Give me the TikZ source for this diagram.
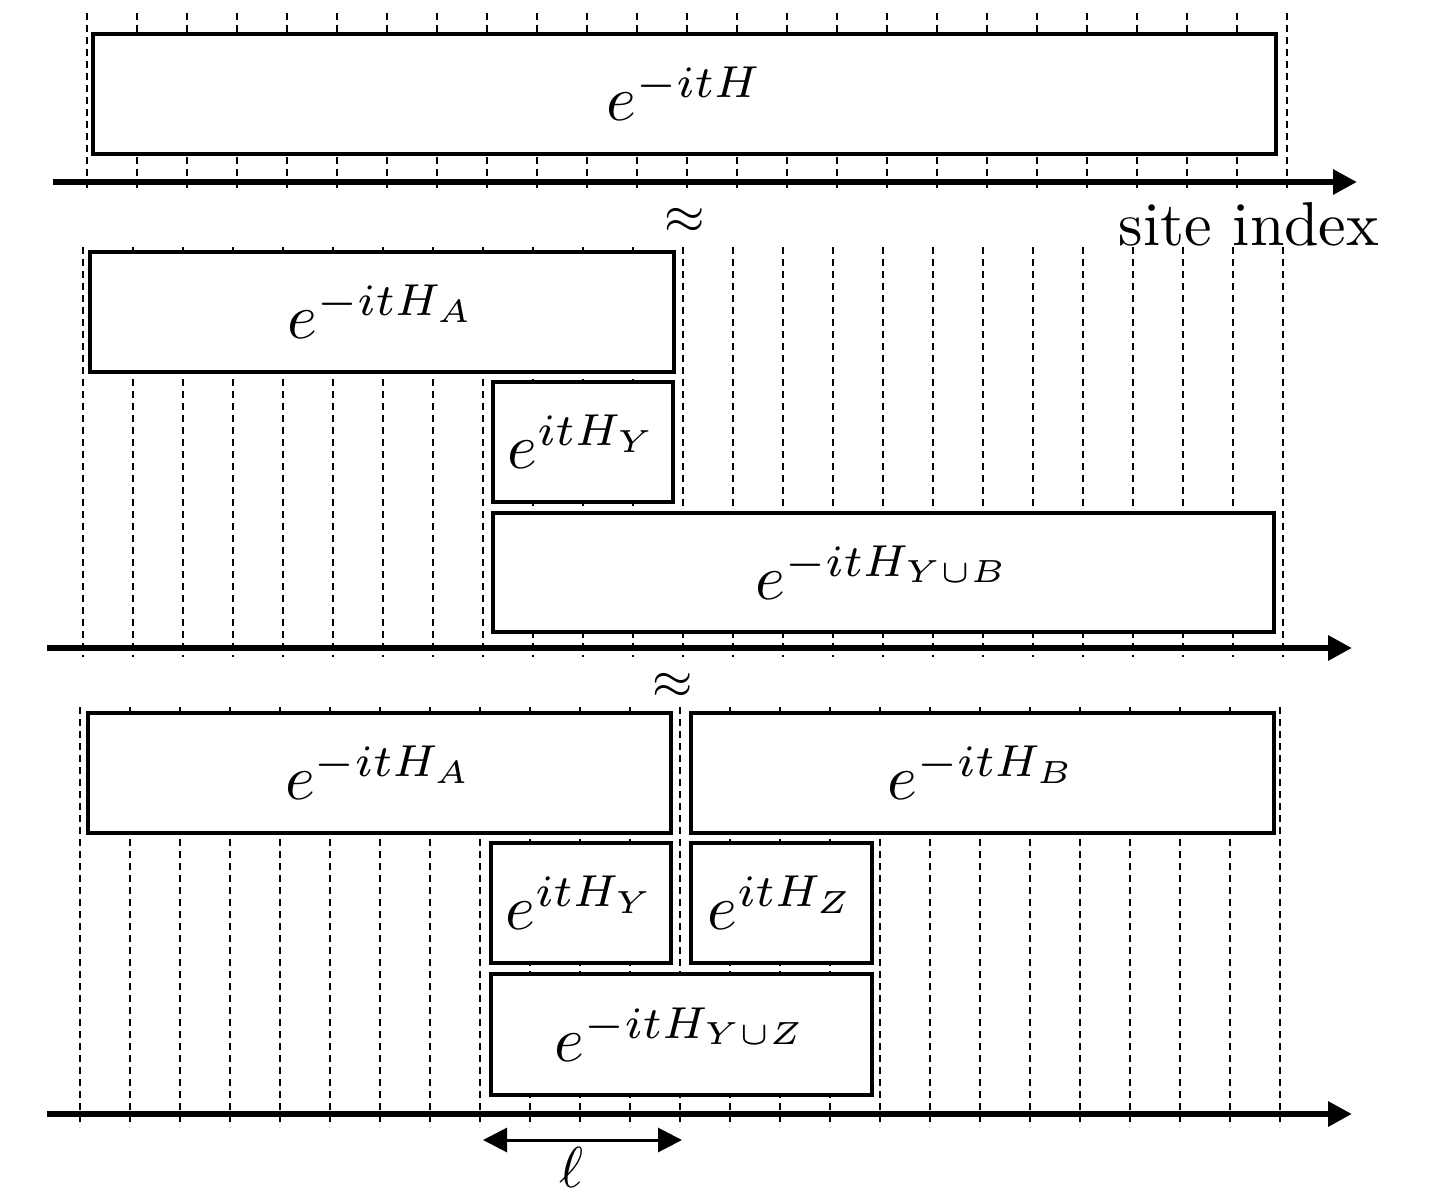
\documentclass[tikz,border=0pt]{standalone}
\usepackage{fontspec}
\usetikzlibrary{arrows.meta}
\begin{document}
\begin{tikzpicture}[x=1pt,y=-1pt,
  gridline/.style={line width=1.8pt, dash pattern=on 7pt off 5pt},
  opbox/.style={draw, fill=white, line width=3.6pt, inner sep=0pt},
  optext/.style={inner sep=0pt, font=\normalsize, scale=6.4, transform shape},
  axisline/.style={line width=6pt, -{Triangle[length=24pt,width=24pt]}},
  dimarrow/.style={line width=3pt, {Triangle[length=24pt,width=24pt]}-{Triangle[length=24pt,width=24pt]}},
  bigtext/.style={inner sep=0pt, font=\normalsize, scale=6.2, transform shape},
  approxsign/.style={inner sep=0pt, font=\normalsize, scale=5.2, transform shape}]
\fill[white] (0,0) rectangle (1435,1199);
\useasboundingbox (0,0) rectangle (1435,1199);

% panel 1
\foreach \k in {0,...,24} \draw[gridline] ({87+50*\k},13) -- ({87+50*\k},190);
\coordinate (a1s) at (53,182);
\coordinate (a1e) at (1357,182);
\draw[axisline] (a1s) -- (a1e);
\node[opbox, minimum width=1183pt, minimum height=120pt] (u1) at (684.5,94) {};
\node[optext] (u1t) at (u1) {$e^{-itH}$};
\node[bigtext, anchor=base] (site) at (1249,245) {site index};

% panel 2
\node[approxsign] (ap1) at (685,221) {$\approx$};
\foreach \k in {0,...,24} \draw[gridline] ({83+50*\k},247) -- ({83+50*\k},657);
\coordinate (a2s) at (47,648);
\coordinate (a2e) at (1352,648);
\draw[axisline] (a2s) -- (a2e);
\node[opbox, minimum width=584pt, minimum height=120pt] (pA) at (382,312) {};
\node[optext] (pAt) at (pA) {$e^{-itH_A}$};
\node[opbox, minimum width=180pt, minimum height=120pt] (pY) at (583,442) {};
\node[optext] (pYt) at (pY) {$e^{itH_Y}$};
\node[opbox, minimum width=781pt, minimum height=119pt] (pYB) at (883.5,572.5) {};
\node[optext] (pYBt) at (pYB) {$e^{-itH_{Y\cup B}}$};

% panel 3
\node[approxsign] (ap2) at (673,686) {$\approx$};
\foreach \k in {0,...,24} \draw[gridline] ({80+50*\k},707) -- ({80+50*\k},1127);
\coordinate (a3s) at (47,1114);
\coordinate (a3e) at (1352,1114);
\draw[axisline] (a3s) -- (a3e);
\node[opbox, minimum width=583pt, minimum height=120pt] (qA) at (379.5,773) {};
\node[optext] (qAt) at (qA) {$e^{-itH_A}$};
\node[opbox, minimum width=583pt, minimum height=120pt] (qB) at (982.5,773) {};
\node[optext] (qBt) at (qB) {$e^{-itH_B}$};
\node[opbox, minimum width=180pt, minimum height=120pt] (qY) at (581,903) {};
\node[optext] (qYt) at (qY) {$e^{itH_Y}$};
\node[opbox, minimum width=181pt, minimum height=120pt] (qZ) at (781.5,903) {};
\node[optext] (qZt) at (qZ) {$e^{itH_Z}$};
\node[opbox, minimum width=381pt, minimum height=121pt] (qYZ) at (681.5,1034.5) {};
\node[optext] (qYZt) at (qYZ) {$e^{-itH_{Y\cup Z}}$};

% length marker
\coordinate (l1) at (483,1140);
\coordinate (l2) at (682,1140);
\draw[dimarrow] (l1) -- (l2);
\node[bigtext, anchor=north, scale=0.93] (ell) at (572,1146) {$\ell$};
\end{tikzpicture}
\end{document}
